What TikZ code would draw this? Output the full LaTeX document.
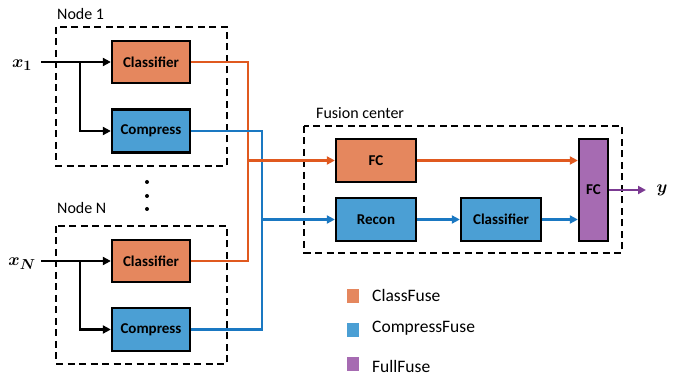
\documentclass[tikz,border=0pt]{standalone}
\usepackage{fontspec}
\setmainfont{Carlito}
\usepackage{bm}
\usetikzlibrary{arrows.meta}
\definecolor{ofill}{HTML}{E5875E}
\definecolor{oline}{HTML}{E0591F}
\definecolor{bfill}{HTML}{4B9FD4}
\definecolor{bline}{HTML}{1A78C2}
\definecolor{pfill}{HTML}{A66BB2}
\definecolor{pline}{HTML}{7B3A92}
\tikzset{
  blk/.style={draw=black, line width=2.3pt, font=\bfseries\fontsize{15}{17}\selectfont, inner sep=0pt},
  oblk/.style={blk, fill=ofill, minimum width=78pt, minimum height=42pt},
  bblk/.style={blk, fill=bfill, minimum width=78pt, minimum height=43pt},
  grp/.style={draw=black, line width=2pt, dash pattern=on 7pt off 4.5pt},
  grplabel/.style={font=\fontsize{16}{18}\selectfont, anchor=west, inner sep=0pt},
  arr/.style={line width=2.5pt, -{Triangle[length=8pt,width=8pt]}},
  wire/.style={line width=2.5pt},
  leg/.style={minimum width=12pt, minimum height=14pt, inner sep=0pt},
  legtext/.style={font=\fontsize{17.5}{19}\selectfont, anchor=west, inner sep=0pt},
  dot/.style={circle, fill=black, inner sep=0pt, minimum size=4pt},
  mlab/.style={font=\fontsize{19}{21}\selectfont, inner sep=0pt}
}
\begin{document}
\begin{tikzpicture}[x=1pt,y=-1pt]
\useasboundingbox (0,0) rectangle (683,379);
% group boxes
\draw[grp] (56,27) rectangle (227,166);
\draw[grp] (56,226) rectangle (227,364);
\draw[grp] (304,126) rectangle (622,253);
\node[grplabel] (lab1) at (57,14) {Node 1};
\node[grplabel] (labN) at (57,208) {Node N};
\node[grplabel] (labF) at (316,113) {Fusion center};
% dots
\node[dot] (d1) at (147,182) {};
\node[dot] (d2) at (147,196) {};
\node[dot] (d3) at (147,209) {};
% node 1
\node[oblk] (c1) at (151,62) {Classifier};
\node[bblk] (p1) at (151,131) {Compress};
% node N
\node[oblk] (cN) at (151,261) {Classifier};
\node[bblk] (pN) at (151,329.5) {Compress};
% fusion center
\node[oblk, minimum width=80pt, minimum height=43pt] (fc) at (376,160.5) {FC};
\node[bblk, minimum width=80pt] (rc) at (376,219.5) {Recon};
\node[bblk, minimum width=80pt] (cl) at (501,219.5) {Classifier};
\node[blk, fill=pfill, minimum width=29pt, minimum height=102pt] (ff) at (593.5,190) {FC};
% inputs
\node[mlab] (x1) at (22,65) {$\bm{x}_{\bm{1}}$};
\node[mlab] (xN) at (22,264) {$\bm{x}_{\bm{N}}$};
\coordinate (in1) at (41,62);
\coordinate (br1) at (80,62);
\coordinate (inN) at (41,261);
\coordinate (brN) at (80,261);
\draw[arr] (in1) -- (c1.west);
\draw[arr] (br1) |- (p1.west);
\draw[arr] (inN) -- (cN.west);
\draw[arr] (brN) |- (pN.west);
% wiring
\coordinate (oj) at (248,160.5);
\coordinate (bj) at (262,219.5);
\draw[wire, oline] (c1.east) -| (oj) |- (cN.east);
\draw[wire, bline] (p1.east) -| (bj) |- (pN.east);
\draw[arr, oline] (oj) -- (fc.west);
\draw[arr, bline] (bj) -- (rc.west);
\draw[arr, oline] (fc.east) -- (ff.west |- fc.east);
\draw[arr, bline] (rc.east) -- (cl.west);
\draw[arr, bline] (cl.east) -- (ff.west |- cl.east);
\coordinate (yo) at (646,190);
\draw[arr, pline] (ff.east) -- (yo);
\node[mlab] (ylab) at (662,190) {$\bm{y}$};
% legend
\node[leg, fill=ofill] (l1) at (353,296.5) {};
\node[leg, fill=bfill] (l2) at (353,330) {};
\node[leg, fill=pfill] (l3) at (353,364) {};
\node[legtext] (t1) at (372,295) {ClassFuse};
\node[legtext] (t2) at (372,328) {CompressFuse};
\node[legtext] (t3) at (372,366) {FullFuse};
\end{tikzpicture}
\end{document}
